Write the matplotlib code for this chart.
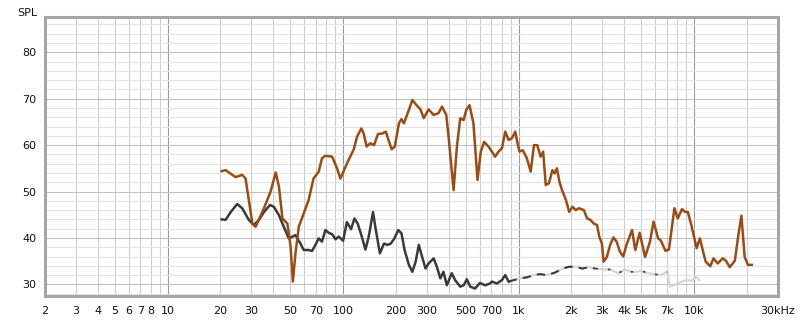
import numpy as np
import matplotlib
matplotlib.use('Agg')
import matplotlib.pyplot as plt

# brown curve (SPL, dB)
freq_a = [20.3, 21.4, 24.4, 26.6, 27.8, 30.4, 31.7, 35.4, 38.6, 41.3, 43.1, 45.1, 48.1,
          50.2, 51.7, 53.5, 55.9, 59.6, 63.6, 67.8, 72.6, 75.8, 79.2, 86.6, 92.3, 96.5,
          105, 115, 120, 127, 131, 136, 143, 150, 158, 167, 175, 183, 189, 197, 208, 215,
          222, 237, 248, 262, 276, 288, 307, 328, 350, 366, 387, 399, 426, 445, 465, 486,
          503, 525, 553, 583, 609, 636, 673, 704, 735, 768, 803, 839, 877, 916, 957, 986,
          1012, 1057, 1113, 1172, 1223, 1277, 1334, 1380, 1428, 1490, 1557, 1604, 1653,
          1709, 1768, 1861, 1942, 2027, 2117, 2209, 2355, 2458, 2566, 2679, 2796, 2883,
          2983, 3050, 3184, 3324, 3470, 3622, 3781, 3948, 4118, 4430, 4625, 4895, 5258,
          5607, 5876, 6241, 6454, 6880, 7191, 7725, 8068, 8530, 8904, 9216, 9699, 10339,
          10792, 11265, 11646, 12366, 12908, 13646, 14545, 15183, 15964, 17081, 17827,
          18609, 19425, 20278, 21338]
spl_a = [54.4, 54.6, 53.1, 53.6, 52.8, 43.1, 42.4, 46.4, 50.0, 54.1, 51.0, 44.2, 43.1,
         38.1, 30.6, 36.7, 42.4, 45.3, 48.2, 52.8, 54.3, 57.2, 57.7, 57.5, 55.0, 52.8,
         56.0, 59.1, 61.8, 63.6, 62.5, 59.7, 60.4, 60.0, 62.4, 62.5, 62.9, 60.7, 59.1, 59.7,
         64.7, 65.6, 64.7, 67.6, 69.7, 68.6, 67.7, 65.8, 67.7, 66.5, 66.9, 68.3, 66.5, 61.8,
         50.3, 59.7, 65.8, 65.4, 67.6, 68.6, 64.7, 52.5, 58.6, 60.7, 59.7, 58.6, 57.5, 58.6,
         59.3, 62.9, 61.1, 61.5, 62.9, 60.4, 58.6, 58.9, 57.2, 54.3, 60.0, 60.0, 57.5, 58.6,
         51.4, 51.8, 54.6, 53.9, 55.0, 52.1, 50.3, 48.2, 45.6, 46.7, 46.0, 46.4, 46.0, 44.2,
         43.9, 43.1, 42.8, 40.3, 38.8, 34.9, 35.9, 38.5, 40.1, 39.2, 37.0, 36.0, 38.5, 41.7,
         37.4, 41.1, 35.9, 39.2, 43.5, 39.9, 39.5, 37.2, 37.5, 46.4, 44.2, 46.2, 45.6, 45.6,
         42.4, 37.8, 39.9, 37.0, 34.9, 33.9, 35.6, 34.5, 35.6, 35.1, 33.7, 35.1, 40.3, 44.8,
         35.9, 34.2, 34.2]

# dark curve
freq_b = [20.3, 21.4, 22.9, 24.9, 26.6, 29.0, 31.0, 33.2, 35.4, 38.3, 40.3, 43.1, 45.9,
          49.0, 53.5, 57.1, 59.6, 63.6, 66.5, 69.5, 72.6, 75.8, 79.2, 82.8, 86.6, 90.5,
          94.4, 100, 105, 111, 116, 121, 127, 134, 140, 148, 153, 162, 171, 179, 187, 196,
          206, 215, 224, 237, 248, 259, 270, 282, 295, 307, 328, 342, 358, 373, 390, 416,
          435, 465, 486, 507, 530, 565, 602, 645, 688, 704, 752, 803, 839, 877, 936, 1022,
          1113, 1213, 1327, 1440, 1604, 1780, 1942, 2117, 2303, 2510, 2739, 3050, 3324,
          3700, 4035, 4393, 4695, 5010, 5452, 5920, 6454, 7036, 7283, 7667, 8000, 8530,
          9100, 9699, 10339, 10700]
spl_b = [44.0, 43.9, 45.6, 47.3, 46.4, 43.9, 42.8, 43.9, 45.6, 47.1, 46.7, 44.9, 42.4,
         39.9, 40.6, 38.8, 37.4, 37.4, 37.2, 38.5, 39.9, 39.2, 41.7, 41.1, 40.8, 39.7,
         40.3, 39.4, 43.4, 41.9, 44.2, 43.1, 40.6, 37.5, 40.3, 45.6, 42.1, 36.7, 38.8, 38.5,
         38.8, 39.9, 41.7, 41.0, 37.4, 34.2, 32.7, 34.9, 38.5, 35.9, 33.4, 34.5, 35.6, 33.8,
         31.3, 32.7, 29.8, 32.4, 30.9, 29.5, 29.8, 31.1, 29.5, 29.1, 30.3, 29.8, 30.2, 30.6,
         30.2, 30.9, 32.0, 30.6, 30.9, 31.3, 31.5, 32.0, 32.2, 32.0, 32.5, 33.4, 33.8, 33.8,
         33.4, 33.7, 33.4, 33.2, 33.2, 32.4, 33.2, 32.7, 32.7, 32.9, 32.4, 32.2, 32.0, 32.7,
         29.5, 29.8, 30.2, 30.6, 30.9, 30.8, 31.6, 30.9]

tick_freqs = [2, 3, 4, 5, 6, 7, 8, 10, 20, 30, 50, 70, 100, 200, 300, 500, 700,
              1000, 2000, 3000, 4000, 5000, 7000, 10000, 30000]
tick_labels = ['2', '3', '4', '5', '6', '7', '8', '10', '20', '30', '50', '70', '100',
               '200', '300', '500', '700', '1k', '2k', '3k', '4k', '5k', '7k', '10k', '30kHz']
y_ticks = [30, 40, 50, 60, 70, 80]

plt.rcParams['font.family'] = ['DejaVu Sans']

fig = plt.figure(figsize=(8, 3.21), dpi=100)
ax = fig.add_axes([0.05625, 0.078, 0.916, 0.869])
ax.set_xscale('log')
ax.set_xlim(2, 30000)
ax.set_ylim(27.5, 87.6)

# grid
for dec in [1, 10, 100, 1000, 10000]:
    for m in range(1, 10):
        f = dec * m
        if 2 <= f <= 30000:
            if m == 1:
                ax.axvline(f, color='#9a9a9a', lw=0.8, zorder=1)
            else:
                ax.axvline(f, color='#cdcdcd', lw=0.8, zorder=1)
for v in np.arange(28, 88, 2):
    if v % 10 == 0:
        ax.axhline(v, color='#c2c2c2', lw=0.8, zorder=1)
    else:
        ax.axhline(v, color='#e4e4e4', lw=0.8, zorder=1)

fa = np.array(freq_a)
fb = np.array(freq_b)
sb = np.array(spl_b)

ax.plot(fa, spl_a, color='#9b4c14', lw=1.8, zorder=4)

head = fb <= 877
ax.plot(fb[head], sb[head], color='#3a3a3a', lw=1.8, zorder=3)
tail = fb >= 877
ax.plot(fb[tail], sb[tail], color='#d6d6d6', lw=1.6, zorder=2)
mid = (fb >= 877) & (fb <= 2800)
ax.plot(fb[mid], sb[mid], color='#3a3a3a', lw=1.5, ls=(0, (4, 3)), zorder=3)
late = (fb >= 2739) & (fb <= 7036)
ax.plot(fb[late], sb[late], color='#3a3a3a', lw=1.2, ls=(0, (1.5, 6)), zorder=3)

ax.set_xticks(tick_freqs)
ax.set_xticklabels(tick_labels)
ax.xaxis.set_minor_locator(matplotlib.ticker.NullLocator())
ax.set_yticks(y_ticks)
ax.tick_params(axis='both', length=0, labelsize=8, colors='#111111')
ax.tick_params(axis='x', pad=7)
ax.tick_params(axis='y', pad=6)

for side in ['left', 'top', 'right', 'bottom']:
    ax.spines[side].set_color('#a6a6a6')
    ax.spines[side].set_linewidth(2.2)

fig.text(0.021, 0.975, 'SPL', fontsize=8, va='top', ha='left', color='#111111')

fig.savefig('out.png', dpi=100, facecolor='white')
